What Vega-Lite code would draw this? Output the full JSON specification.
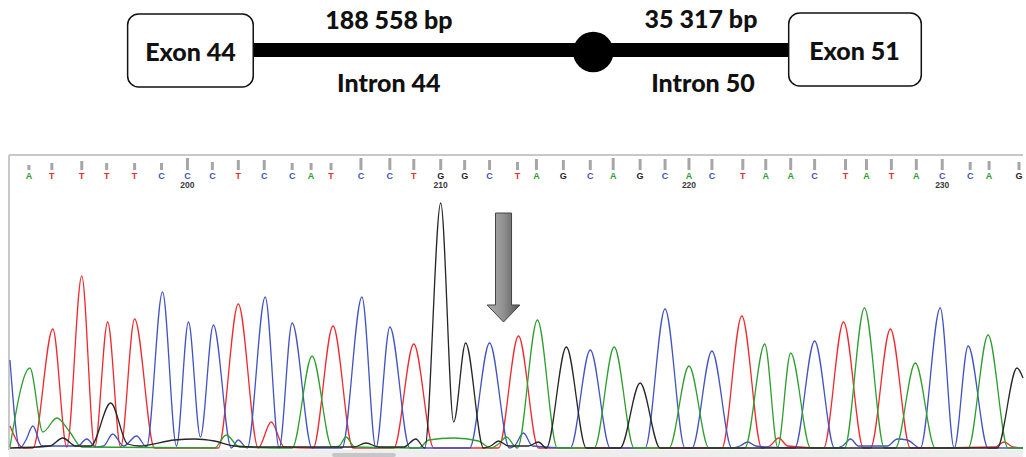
{
  "$schema": "https://vega.github.io/schema/vega-lite/v6.json",
  "width": 1026,
  "height": 457,
  "autosize": {"type": "fit", "contains": "padding"},
  "padding": 0,
  "background": "white",
  "config": {"view": {"stroke": null}},
  "datasets": {
    "bases": [
      {"n":194,"b":"A","x":29,"q":165},{"n":195,"b":"T","x":52,"q":163},{"n":196,"b":"T","x":82,"q":161},
      {"n":197,"b":"T","x":107,"q":163},{"n":198,"b":"T","x":135,"q":163},{"n":199,"b":"C","x":162,"q":163},
      {"n":200,"b":"C","x":188,"q":158},{"n":201,"b":"C","x":213,"q":162},{"n":202,"b":"T","x":239,"q":160},
      {"n":203,"b":"C","x":265,"q":160},{"n":204,"b":"C","x":293,"q":163},{"n":205,"b":"A","x":312,"q":163},
      {"n":206,"b":"T","x":332,"q":163},{"n":207,"b":"C","x":362,"q":158},{"n":208,"b":"C","x":391,"q":158},
      {"n":209,"b":"T","x":415,"q":159},{"n":210,"b":"G","x":442,"q":159},{"n":211,"b":"G","x":466,"q":160},
      {"n":212,"b":"C","x":491,"q":160},{"n":213,"b":"T","x":519,"q":162},{"n":214,"b":"A","x":538,"q":159},
      {"n":215,"b":"G","x":565,"q":160},{"n":216,"b":"C","x":592,"q":160},{"n":217,"b":"A","x":615,"q":158},
      {"n":218,"b":"G","x":642,"q":159},{"n":219,"b":"C","x":667,"q":159},{"n":220,"b":"A","x":691,"q":158},
      {"n":221,"b":"C","x":714,"q":159},{"n":222,"b":"T","x":745,"q":159},{"n":223,"b":"A","x":768,"q":159},
      {"n":224,"b":"A","x":793,"q":158},{"n":225,"b":"C","x":817,"q":159},{"n":226,"b":"T","x":848,"q":159},
      {"n":227,"b":"A","x":869,"q":159},{"n":228,"b":"T","x":894,"q":159},{"n":229,"b":"A","x":919,"q":159},
      {"n":230,"b":"C","x":945,"q":159},{"n":231,"b":"C","x":973,"q":162},{"n":232,"b":"A","x":992,"q":161},
      {"n":233,"b":"G","x":1022,"q":162}
    ],
    "trace": [
      {"b":"T","x":10,"y":426},{"b":"T","x":24,"y":448},{"b":"T","x":33,"y":448},{"b":"T","x":53,"y":329},
      {"b":"T","x":67,"y":447},{"b":"T","x":82,"y":276},{"b":"T","x":95,"y":447},{"b":"T","x":108,"y":322},
      {"b":"T","x":121,"y":447},{"b":"T","x":135,"y":319},{"b":"T","x":155,"y":448},{"b":"T","x":219,"y":448},
      {"b":"T","x":239,"y":304},{"b":"T","x":259,"y":448},{"b":"T","x":272,"y":422},{"b":"T","x":285,"y":447},
      {"b":"T","x":314,"y":448},{"b":"T","x":334,"y":326},{"b":"T","x":354,"y":448},{"b":"T","x":395,"y":448},
      {"b":"T","x":415,"y":344},{"b":"T","x":435,"y":448},{"b":"T","x":500,"y":448},{"b":"T","x":520,"y":336},
      {"b":"T","x":540,"y":448},{"b":"T","x":724,"y":448},{"b":"T","x":744,"y":316},{"b":"T","x":764,"y":448},
      {"b":"T","x":772,"y":446},{"b":"T","x":781,"y":438},{"b":"T","x":790,"y":446},{"b":"T","x":826,"y":448},
      {"b":"T","x":846,"y":322},{"b":"T","x":866,"y":448},{"b":"T","x":873,"y":448},{"b":"T","x":893,"y":329},
      {"b":"T","x":913,"y":448},{"b":"T","x":998,"y":447},{"b":"T","x":1007,"y":442},{"b":"T","x":1016,"y":447},
      {"b":"T","x":1026,"y":448},

      {"b":"C","x":10,"y":360},{"b":"C","x":20,"y":448},{"b":"C","x":26,"y":440},{"b":"C","x":33,"y":426},
      {"b":"C","x":42,"y":446},{"b":"C","x":78,"y":446},{"b":"C","x":87,"y":439},{"b":"C","x":96,"y":447},
      {"b":"C","x":104,"y":446},{"b":"C","x":113,"y":434},{"b":"C","x":124,"y":446},{"b":"C","x":137,"y":436},
      {"b":"C","x":147,"y":447},{"b":"C","x":163,"y":292},{"b":"C","x":177,"y":446},{"b":"C","x":189,"y":322},
      {"b":"C","x":201,"y":437},{"b":"C","x":214,"y":325},{"b":"C","x":232,"y":448},{"b":"C","x":239,"y":440},
      {"b":"C","x":246,"y":447},{"b":"C","x":248,"y":448},{"b":"C","x":266,"y":297},{"b":"C","x":280,"y":448},
      {"b":"C","x":293,"y":323},{"b":"C","x":313,"y":448},{"b":"C","x":343,"y":448},{"b":"C","x":363,"y":297},
      {"b":"C","x":377,"y":448},{"b":"C","x":391,"y":327},{"b":"C","x":411,"y":448},{"b":"C","x":471,"y":448},
      {"b":"C","x":491,"y":343},{"b":"C","x":511,"y":448},{"b":"C","x":516,"y":446},{"b":"C","x":525,"y":433},
      {"b":"C","x":534,"y":446},{"b":"C","x":572,"y":448},{"b":"C","x":592,"y":350},{"b":"C","x":612,"y":448},
      {"b":"C","x":647,"y":448},{"b":"C","x":667,"y":309},{"b":"C","x":687,"y":448},{"b":"C","x":694,"y":448},
      {"b":"C","x":714,"y":351},{"b":"C","x":734,"y":448},{"b":"C","x":742,"y":446},{"b":"C","x":750,"y":442},
      {"b":"C","x":758,"y":446},{"b":"C","x":797,"y":448},{"b":"C","x":817,"y":341},{"b":"C","x":837,"y":448},
      {"b":"C","x":845,"y":446},{"b":"C","x":853,"y":439},{"b":"C","x":861,"y":446},{"b":"C","x":890,"y":446},
      {"b":"C","x":900,"y":439},{"b":"C","x":910,"y":440},{"b":"C","x":923,"y":448},{"b":"C","x":943,"y":308},
      {"b":"C","x":957,"y":448},{"b":"C","x":971,"y":346},{"b":"C","x":991,"y":448},{"b":"C","x":1026,"y":448},

      {"b":"A","x":10,"y":447},{"b":"A","x":30,"y":368},{"b":"A","x":43,"y":432},{"b":"A","x":57,"y":418},
      {"b":"A","x":70,"y":432},{"b":"A","x":82,"y":447},{"b":"A","x":215,"y":448},{"b":"A","x":227,"y":435},
      {"b":"A","x":240,"y":447},{"b":"A","x":293,"y":448},{"b":"A","x":313,"y":356},{"b":"A","x":333,"y":447},
      {"b":"A","x":340,"y":446},{"b":"A","x":347,"y":437},{"b":"A","x":356,"y":447},{"b":"A","x":420,"y":448},
      {"b":"A","x":430,"y":440},{"b":"A","x":455,"y":438},{"b":"A","x":480,"y":441},{"b":"A","x":492,"y":448},
      {"b":"A","x":500,"y":444},{"b":"A","x":508,"y":437},{"b":"A","x":516,"y":446},{"b":"A","x":519,"y":448},
      {"b":"A","x":539,"y":320},{"b":"A","x":559,"y":448},{"b":"A","x":596,"y":448},{"b":"A","x":616,"y":347},
      {"b":"A","x":636,"y":448},{"b":"A","x":671,"y":448},{"b":"A","x":691,"y":366},{"b":"A","x":711,"y":448},
      {"b":"A","x":747,"y":448},{"b":"A","x":767,"y":344},{"b":"A","x":780,"y":447},{"b":"A","x":793,"y":353},
      {"b":"A","x":813,"y":448},{"b":"A","x":847,"y":448},{"b":"A","x":867,"y":308},{"b":"A","x":887,"y":448},
      {"b":"A","x":898,"y":448},{"b":"A","x":918,"y":363},{"b":"A","x":938,"y":448},{"b":"A","x":971,"y":448},
      {"b":"A","x":991,"y":335},{"b":"A","x":1011,"y":448},{"b":"A","x":1026,"y":448},

      {"b":"G","x":10,"y":448},{"b":"G","x":50,"y":446},{"b":"G","x":63,"y":438},{"b":"G","x":76,"y":446},
      {"b":"G","x":91,"y":446},{"b":"G","x":111,"y":403},{"b":"G","x":128,"y":444},{"b":"G","x":140,"y":446},
      {"b":"G","x":175,"y":440},{"b":"G","x":195,"y":439},{"b":"G","x":215,"y":441},{"b":"G","x":235,"y":446},
      {"b":"G","x":260,"y":447},{"b":"G","x":355,"y":447},{"b":"G","x":367,"y":443},{"b":"G","x":380,"y":447},
      {"b":"G","x":405,"y":447},{"b":"G","x":417,"y":439},{"b":"G","x":426,"y":448},{"b":"G","x":442,"y":203},
      {"b":"G","x":455,"y":422},{"b":"G","x":467,"y":343},{"b":"G","x":485,"y":448},{"b":"G","x":492,"y":446},
      {"b":"G","x":500,"y":441},{"b":"G","x":510,"y":446},{"b":"G","x":530,"y":446},{"b":"G","x":540,"y":442},
      {"b":"G","x":548,"y":448},{"b":"G","x":568,"y":347},{"b":"G","x":588,"y":448},{"b":"G","x":622,"y":448},
      {"b":"G","x":642,"y":383},{"b":"G","x":662,"y":448},{"b":"G","x":1000,"y":448},{"b":"G","x":1020,"y":368},
      {"b":"G","x":1026,"y":378}
    ],
    "labels": [
      {"t":"Exon 44","x":191,"y":61},{"t":"Exon 51","x":857,"y":60},
      {"t":"188 558 bp","x":390,"y":29},{"t":"35 317 bp","x":703,"y":28},
      {"t":"Intron 44","x":390,"y":92},{"t":"Intron 50","x":705,"y":92}
    ],
    "boxes": [{"x":128,"x2":254,"y":14,"y2":87},{"x":791,"x2":924,"y":13,"y2":86}]
  },
  "layer": [
    {
      "data": {"values": [{"x":9,"x2":1026,"y":450,"y2":457}]},
      "mark": {"type": "rect", "fill": "#eeeeee"},
      "encoding": {
        "x": {"field": "x", "type": "quantitative", "scale": {"domain": [0, 1026], "nice": false, "zero": false}, "axis": null},
        "y": {"field": "y", "type": "quantitative", "scale": {"domain": [0, 457], "nice": false, "zero": false, "reverse": true}, "axis": null},
        "x2": {"field": "x2"}, "y2": {"field": "y2"}
      }
    },
    {
      "data": {"values": [{"x":333,"x2":397,"y":453,"y2":457}]},
      "mark": {"type": "rect", "fill": "#c6c6c6", "cornerRadius": 2},
      "encoding": {
        "x": {"field": "x", "type": "quantitative"},
        "y": {"field": "y", "type": "quantitative"},
        "x2": {"field": "x2"}, "y2": {"field": "y2"}
      }
    },
    {
      "data": {"values": [{"x":9,"y":155,"x2":1026,"y2":155},{"x":9,"y":155,"x2":9,"y2":450}]},
      "mark": {"type": "rule", "color": "#c8c8c8", "strokeWidth": 2},
      "encoding": {
        "x": {"field": "x", "type": "quantitative"},
        "y": {"field": "y", "type": "quantitative"},
        "x2": {"field": "x2"}, "y2": {"field": "y2"}
      }
    },
    {
      "data": {"name": "trace"},
      "mark": {"type": "line", "interpolate": "monotone", "strokeWidth": 1.3},
      "encoding": {
        "x": {"field": "x", "type": "quantitative"},
        "y": {"field": "y", "type": "quantitative"},
        "color": {"field": "b", "type": "nominal", "scale": {"domain": ["A","C","G","T"], "range": ["#2e9e2e","#4353c0","#262626","#ee2a2f"]}, "legend": null},
        "detail": {"field": "b"}
      }
    },
    {
      "data": {"name": "bases"},
      "mark": {"type": "rule", "color": "#a6a6a6", "strokeWidth": 3},
      "encoding": {
        "x": {"field": "x", "type": "quantitative"},
        "y": {"field": "q", "type": "quantitative"},
        "y2": {"datum": 170}
      }
    },
    {
      "data": {"name": "bases"},
      "mark": {"type": "text", "font": "Liberation Sans", "fontWeight": "bold", "fontSize": 9, "baseline": "middle"},
      "encoding": {
        "x": {"field": "x", "type": "quantitative"},
        "y": {"datum": 176, "type": "quantitative"},
        "text": {"field": "b"},
        "color": {"field": "b", "type": "nominal", "legend": null}
      }
    },
    {
      "data": {"name": "bases"},
      "transform": [{"filter": "datum.n % 10 === 0"}],
      "mark": {"type": "text", "font": "Liberation Sans", "fontWeight": "bold", "fontSize": 8.5, "baseline": "middle", "color": "#3a3a3a"},
      "encoding": {
        "x": {"field": "x", "type": "quantitative"},
        "y": {"datum": 185, "type": "quantitative"},
        "text": {"field": "n"}
      }
    },
    {
      "data": {"values": [{"x": 505, "y": 267.5}]},
      "mark": {
        "type": "point", "filled": true, "size": 11881,
        "shape": "M -0.147 -1 L 0.147 -1 L 0.147 0.688 L 0.3 0.688 L 0 1 L -0.3 0.688 L -0.147 0.688 Z",
        "fill": {"gradient": "linear", "x1": 0, "y1": 0, "x2": 1, "y2": 0, "stops": [{"offset": 0, "color": "#b0b0b0"}, {"offset": 0.5, "color": "#909090"}, {"offset": 1, "color": "#555555"}]},
        "stroke": "#444444", "strokeWidth": 1, "opacity": 1, "fillOpacity": 1
      },
      "encoding": {
        "x": {"field": "x", "type": "quantitative"},
        "y": {"field": "y", "type": "quantitative"}
      }
    },
    {
      "data": {"values": [{"x":254,"x2":791,"y":43,"y2":57}]},
      "mark": {"type": "rect", "fill": "#000000"},
      "encoding": {
        "x": {"field": "x", "type": "quantitative"},
        "y": {"field": "y", "type": "quantitative"},
        "x2": {"field": "x2"}, "y2": {"field": "y2"}
      }
    },
    {
      "data": {"name": "boxes"},
      "mark": {"type": "rect", "fill": "white", "stroke": "#111111", "strokeWidth": 1.5, "cornerRadius": 11},
      "encoding": {
        "x": {"field": "x", "type": "quantitative"},
        "y": {"field": "y", "type": "quantitative"},
        "x2": {"field": "x2"}, "y2": {"field": "y2"}
      }
    },
    {
      "data": {"values": [{"x": 595, "y": 52}]},
      "mark": {"type": "point", "shape": "circle", "filled": true, "size": 1640, "color": "#000000", "opacity": 1},
      "encoding": {
        "x": {"field": "x", "type": "quantitative"},
        "y": {"field": "y", "type": "quantitative"}
      }
    },
    {
      "data": {"name": "labels"},
      "mark": {"type": "text", "font": "Lato", "fontWeight": 900, "fontSize": 25, "baseline": "alphabetic", "align": "center", "color": "#111111"},
      "encoding": {
        "x": {"field": "x", "type": "quantitative"},
        "y": {"field": "y", "type": "quantitative"},
        "text": {"field": "t"}
      }
    }
  ]
}
